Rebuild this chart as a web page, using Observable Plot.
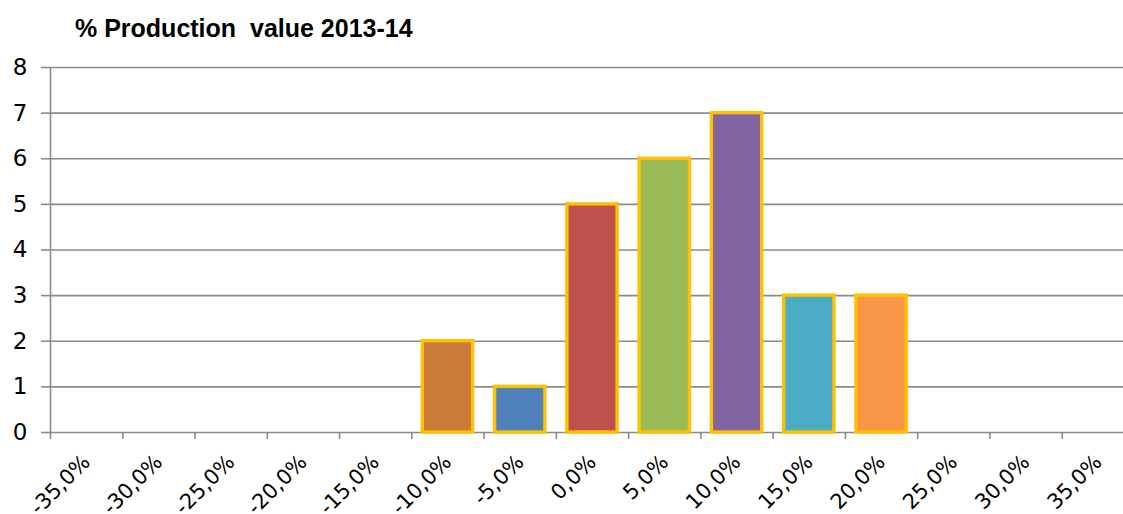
<!DOCTYPE html>
<html>
<head>
<meta charset="utf-8">
<script src="https://cdn.jsdelivr.net/npm/d3@7"></script>
<script src="https://cdn.jsdelivr.net/npm/@observablehq/plot@0.6"></script>
<style>
  html, body { margin: 0; padding: 0; background: #fff; overflow: hidden; }
  #title {
    height: 50px;
    box-sizing: border-box;
    padding: 16px 0 0 75px;
    font-family: "Liberation Sans", Arial, sans-serif;
    font-weight: bold;
    font-size: 25px;
    line-height: 25px;
    color: #000;
    white-space: pre;
  }
  #chart svg { display: block; overflow: visible; }
</style>
</head>
<body>
<div id="title">% Production  value 2013-14</div>
<div id="chart"></div>
<script>
// Bin centres (percentage change) and how many producers fall in each bin
const binCenters = [-35, -30, -25, -20, -15, -10, -5, 0, 5, 10, 15, 20, 25, 30, 35];
const binLabels = ["-35,0%", "-30,0%", "-25,0%", "-20,0%", "-15,0%", "-10,0%", "-5,0%", "0,0%",
                   "5,0%", "10,0%", "15,0%", "20,0%", "25,0%", "30,0%", "35,0%"];
const counts = [0, 0, 0, 0, 0, 2, 1, 5, 6, 7, 3, 3, 0, 0, 0];
const barColors = ["#4F81BD", "#C0504D", "#9BBB59", "#8064A2", "#4BACC6", "#C97B38", "#4F81BD",
                   "#C0504D", "#9BBB59", "#8064A2", "#4BACC6", "#F79646", "#4F81BD", "#C0504D", "#9BBB59"];
const binWidth = 5;
const yTicks = [0, 1, 2, 3, 4, 5, 6, 7, 8];

const bins = binCenters.map((c, i) => ({
  center: c, label: binLabels[i], count: counts[i], color: barColors[i]
}));
const edges = binCenters.map(c => c - binWidth / 2).concat([binCenters[binCenters.length - 1] + binWidth / 2]);
const xDomain = [edges[0], edges[edges.length - 1]];

const gridColor = "#8a8a8a";

const chart = Plot.plot({
  width: 1123,
  height: 464,
  marginTop: 17,
  marginBottom: 82,
  marginLeft: 50,
  marginRight: 0,
  style: { fontFamily: "DejaVu Sans, sans-serif", background: "transparent", overflow: "visible" },
  x: { type: "linear", domain: xDomain, range: [50, 1134] },
  y: { domain: [0, 8] },
  marks: [
    // horizontal gridlines with short ticks to the left
    Plot.ruleY(yTicks, { x1: xDomain[0], x2: xDomain[1], stroke: gridColor, strokeWidth: 1.6 }),
    Plot.axisY({
      ticks: yTicks, tickSize: 9, tickPadding: 14, stroke: gridColor, strokeWidth: 1.6,
      strokeOpacity: 1, fontSize: 23, color: "#000", label: null
    }),
    // vertical axis line
    Plot.ruleX([xDomain[0]], { y1: 0, y2: 8, stroke: gridColor, strokeWidth: 1.6 }),
    // bars
    Plot.rectY(bins.filter(d => d.count > 0), {
      x1: d => d.center - binWidth / 2,
      x2: d => d.center + binWidth / 2,
      y1: 0,
      y2: "count",
      fill: "color",
      stroke: "#FFC000",
      strokeWidth: 3.4,
      insetLeft: 11,
      insetRight: 11
    }),
    // category boundary ticks
    Plot.axisX({
      ticks: edges, tickSize: 7, tickFormat: () => "", stroke: gridColor, strokeWidth: 1.6,
      strokeOpacity: 1, label: null
    }),
    // category labels at bin centres
    Plot.axisX({
      ticks: binCenters, tickSize: 0, tickPadding: 26, tickRotate: -45,
      tickFormat: d => binLabels[binCenters.indexOf(d)],
      fontSize: 21, color: "#000", label: null
    })
  ]
});

document.getElementById("chart").appendChild(chart);
</script>
</body>
</html>
